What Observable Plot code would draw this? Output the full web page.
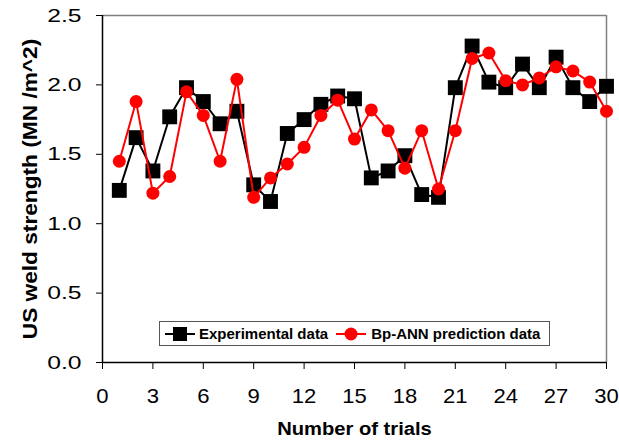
<!DOCTYPE html>
<html>
<head>
<meta charset="utf-8">
<script src="https://cdn.jsdelivr.net/npm/d3@7"></script>
<script src="https://cdn.jsdelivr.net/npm/@observablehq/plot@0.6"></script>
<style>
  html, body { margin: 0; padding: 0; background: white; }
  #wrap { position: relative; width: 619px; height: 447px; }
  #wrap svg { font-family: "Liberation Sans", Arial, sans-serif; }
  g[aria-label="y-axis label"] { font-weight: bold; font-size: 21px; }
  g[aria-label="x-axis label"] { font-weight: bold; font-size: 18px; }
  g[aria-label="x-axis tick label"] { font-size: 21px; }
  g[aria-label="y-axis tick label"] { font-size: 19px; }
  #legend {
    position: absolute; left: 159px; top: 321px; width: 389px; height: 23px;
    border: 1px solid #555; background: white;
    font-family: "Liberation Sans", Arial, sans-serif; font-weight: bold; font-size: 15px;
    display: flex; align-items: center; white-space: nowrap;
  }
  #legend .item { display: flex; align-items: center; flex-shrink: 0; }
  #legend svg { display: block; flex-shrink: 0; }
</style>
</head>
<body>
<div id="wrap"></div>
<script>
const trials = d3.range(1, 31);
const experimental = [1.24, 1.62, 1.38, 1.77, 1.98, 1.88, 1.72, 1.81, 1.28, 1.16,
                      1.65, 1.75, 1.86, 1.92, 1.90, 1.33, 1.38, 1.49, 1.21, 1.19,
                      1.98, 2.28, 2.02, 1.98, 2.15, 1.98, 2.20, 1.98, 1.88, 1.99];
const predicted = [1.45, 1.88, 1.22, 1.34, 1.95, 1.78, 1.45, 2.04, 1.19, 1.33,
                   1.43, 1.55, 1.78, 1.89, 1.61, 1.82, 1.67, 1.40, 1.67, 1.25,
                   1.67, 2.19, 2.23, 2.03, 2.00, 2.05, 2.13, 2.10, 2.02, 1.81];
const xTicks = [0, 3, 6, 9, 12, 15, 18, 21, 24, 27, 30];
const yTicks = [0, 0.5, 1.0, 1.5, 2.0, 2.5];
const seriesNames = ["Experimental data", "Bp-ANN prediction data"];

const data = trials.map((t, i) => ({trial: t, exp: experimental[i], pred: predicted[i]}));

const chart = Plot.plot({
  width: 619, height: 447,
  marginLeft: 102, marginRight: 13, marginTop: 15, marginBottom: 85,
  x: {domain: [0, 30]},
  y: {domain: [0, 2.5]},
  style: {fontFamily: "Liberation Sans, Arial, sans-serif", fontSize: "18px", color: "black", background: "white", overflow: "visible"},
  marks: [
    Plot.ruleY([2.5], {stroke: "#808080", strokeWidth: 1.5}),
    Plot.ruleX([30], {stroke: "#808080", strokeWidth: 1.5}),
    Plot.axisX({ticks: xTicks, tickSize: 7, tickPadding: 19, tickFormat: d => String(d),
      label: "Number of trials", labelAnchor: "center", labelOffset: 72, labelArrow: "none"}),
    Plot.axisY({ticks: yTicks, tickSize: 6, tickPadding: 15, tickFormat: d3.format(".1f"),
      label: "US weld strength (MN /m^2)", labelAnchor: "center", labelOffset: 80, labelArrow: "none"}),
    Plot.ruleY([0], {stroke: "black", strokeWidth: 1.5}),
    Plot.ruleX([0], {stroke: "black", strokeWidth: 1.5}),
    Plot.line(data, {x: "trial", y: "exp", stroke: "black", strokeWidth: 2}),
    Plot.dot(data, {x: "trial", y: "exp", symbol: "square", r: 8.4, fill: "black", stroke: "none"}),
    Plot.line(data, {x: "trial", y: "pred", stroke: "#ff0000", strokeWidth: 2}),
    Plot.dot(data, {x: "trial", y: "pred", symbol: "circle", r: 6.5, fill: "#ff0000", stroke: "none"})
  ]
});
document.getElementById("wrap").appendChild(chart);

// widen text glyphs to match the reference's horizontally stretched lettering
function stretch(selector, factor) {
  chart.querySelectorAll(selector).forEach(t => {
    const w = t.getComputedTextLength();
    if (w > 0) {
      t.setAttribute("textLength", (w * factor).toFixed(1));
      t.setAttribute("lengthAdjust", "spacingAndGlyphs");
    }
  });
}
stretch('g[aria-label="y-axis tick label"] text', 1.3);
stretch('g[aria-label="x-axis tick label"] text', 1.05);
stretch('g[aria-label="x-axis label"] text', 1.12);
stretch('g[aria-label="y-axis label"] text', 1.08);

const legend = document.createElement("div");
legend.id = "legend";
legend.innerHTML = `
  <div class="item" style="margin-left:5px">
    <svg width="30" height="18"><line x1="0" x2="30" y1="9" y2="9" stroke="black" stroke-width="2"/><rect x="8" y="2" width="14" height="14" fill="black"/></svg>
    <span style="margin-left:4px">${seriesNames[0]}</span>
  </div>
  <div class="item" style="margin-left:8px">
    <svg width="30" height="18"><line x1="0" x2="30" y1="9" y2="9" stroke="#ff0000" stroke-width="2"/><circle cx="15" cy="9" r="6.5" fill="#ff0000"/></svg>
    <span style="margin-left:5px">${seriesNames[1]}</span>
  </div>`;
document.getElementById("wrap").appendChild(legend);
</script>
</body>
</html>
